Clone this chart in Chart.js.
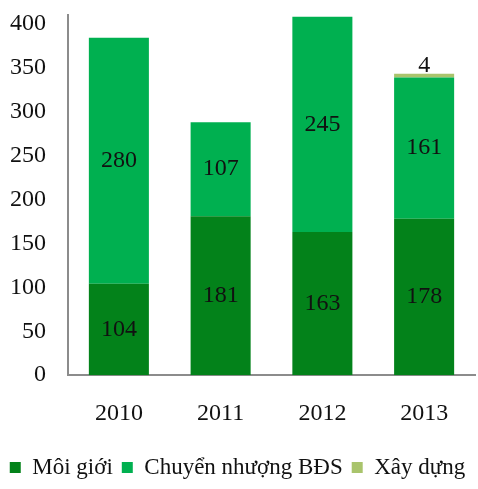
<!DOCTYPE html>
<html>
<head>
<meta charset="utf-8">
<script src="https://cdn.jsdelivr.net/npm/chart.js@4/dist/chart.umd.min.js"></script>
<style>
html,body{margin:0;padding:0;background:#fff;}
#wrap{width:478px;height:489px;position:relative;}
</style>
</head>
<body>
<div id="wrap"><canvas id="c" width="478" height="489"></canvas></div>
<script>
const categories = ['2010', '2011', '2012', '2013'];
const moiGioi = [104, 181, 163, 178];
const chuyenNhuong = [280, 107, 245, 161];
const xayDung = [null, null, null, 4];
const yTicks = [0, 50, 100, 150, 200, 250, 300, 350, 400];
const seriesNames = ['Môi giới', 'Chuyển nhượng BĐS', 'Xây dựng'];

const FONT = "'Liberation Serif', 'Times New Roman', serif";

const labelPlugin = {
  id: 'valueLabels',
  afterDatasetsDraw(chart) {
    const ctx = chart.ctx;
    ctx.save();
    ctx.font = '24px ' + FONT;
    ctx.fillStyle = '#111';
    ctx.textAlign = 'center';
    chart.data.datasets.forEach((ds, di) => {
      const meta = chart.getDatasetMeta(di);
      meta.data.forEach((el, i) => {
        const v = ds.data[i];
        if (v === null || v === undefined) return;
        if (di === 2) {
          ctx.textBaseline = 'bottom';
          ctx.fillText(String(v), el.x, el.y + 4);
        } else {
          ctx.textBaseline = 'middle';
          ctx.fillText(String(v), el.x, (el.y + el.base) / 2);
        }
      });
    });
    ctx.restore();
  }
};

new Chart(document.getElementById('c'), {
  type: 'bar',
  data: {
    labels: categories,
    datasets: [
      { label: seriesNames[0], data: moiGioi, backgroundColor: '#03821a' },
      { label: seriesNames[1], data: chuyenNhuong, backgroundColor: '#00b050' },
      { label: seriesNames[2], data: xayDung, backgroundColor: '#a9c46c' }
    ]
  },
  options: {
    responsive: false,
    animation: false,
    devicePixelRatio: 1,
    layout: { padding: { top: 15, left: 0, right: 3, bottom: 0 } },
    datasets: { bar: { barPercentage: 0.59, categoryPercentage: 1.0 } },
    plugins: {
      legend: {
        position: 'bottom',
        labels: {
          font: { family: FONT, size: 23 },
          color: '#111',
          boxWidth: 11,
          boxHeight: 11,
          padding: 9
        }
      },
      tooltip: { enabled: false }
    },
    scales: {
      x: {
        stacked: true,
        grid: { display: false, drawTicks: false },
        border: { display: true, color: '#8c8c8c', width: 2 },
        ticks: { font: { family: FONT, size: 24 }, color: '#111', padding: 24 },
        afterFit(scale) { scale.paddingLeft = 0; scale.paddingRight = 0; scale.height -= 5; }
      },
      y: {
        stacked: true,
        min: 0,
        max: 410,
        grid: { display: false, drawTicks: false },
        border: { display: true, color: '#8c8c8c', width: 2 },
        ticks: { font: { family: FONT, size: 24 }, color: '#111', padding: 22 },
        afterBuildTicks(scale) { scale.ticks = yTicks.map(v => ({ value: v })); },
        afterFit(scale) { scale.width = 68; scale.paddingTop = 0; scale.paddingBottom = 0; }
      }
    }
  },
  plugins: [labelPlugin]
});
</script>
</body>
</html>
